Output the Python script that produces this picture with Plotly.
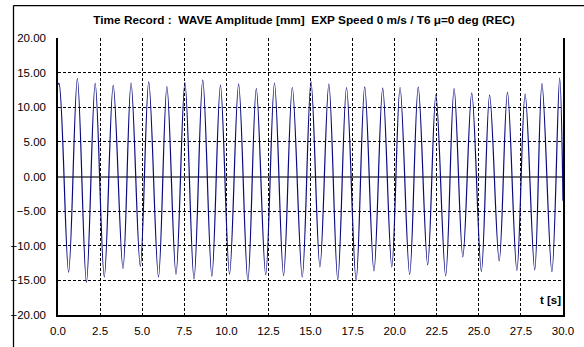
import plotly.graph_objects as go

# Wave record: alternating crests / troughs (time in s, amplitude in mm)
time_s = [0.00, 0.06, 0.63, 1.15, 1.69, 2.21, 2.75, 3.28, 3.86, 4.34, 4.89, 5.39, 5.97, 6.47, 7.01,
          7.54, 8.08, 8.60, 9.14, 9.65, 10.19, 10.73, 11.28, 11.78, 12.34, 12.86, 13.40, 13.92, 14.51,
          15.03, 15.56, 16.09, 16.62, 17.14, 17.71, 18.22, 18.77, 19.29, 19.83, 20.32, 20.89, 21.40,
          21.96, 22.45, 23.03, 23.53, 24.05, 24.58, 25.15, 25.64, 26.21, 26.70, 27.26, 27.75, 28.32,
          28.75, 29.34, 29.80, 30.00]
amp_mm = [13.3, 13.45, -13.8, 14.15, -15.3, 13.45, -14.5, 13.15, -13.3, 13.5, -13.0, 13.65, -14.5,
          13.0, -14.1, 13.55, -14.8, 13.95, -14.4, 13.2, -14.1, 13.35, -15.1, 12.7, -14.2, 13.5, -14.3,
          12.85, -14.5, 13.7, -13.05, 13.35, -14.9, 12.85, -15.0, 12.95, -13.65, 12.75, -13.05, 12.85,
          -14.15, 12.9, -12.75, 11.8, -14.35, 12.7, -11.6, 12.05, -13.7, 11.75, -12.2, 12.15, -13.55,
          11.9, -13.5, 13.4, -13.75, 14.2, -3.5]

x_ticks = [0, 2.5, 5, 7.5, 10, 12.5, 15, 17.5, 20, 22.5, 25, 27.5, 30]
y_ticks = [-20, -15, -10, -5, 0, 5, 10, 15, 20]

title_text = ("Time Record :\u00a0\u00a0WAVE Amplitude [mm]\u00a0\u00a0EXP Speed 0 m/s / T6 "
              "\u03bc=0 deg (REC)")

FONT = "Arial, Liberation Sans, sans-serif"
W, H = 584, 347
L, R, T, B = 52, 10, 38, 27
pw, ph = W - L - R, H - T - B

fig = go.Figure()
fig.add_trace(go.Scatter(x=time_s, y=amp_mm, mode="lines",
                         line=dict(color="#0a0a80", width=1.2, shape="spline", smoothing=1.0),
                         showlegend=False, hoverinfo="skip"))

grid = dict(showgrid=True, gridcolor="black", gridwidth=1, griddash="3px,2px",
            ticks="", showline=True, linecolor="black", linewidth=1.5,
            tickfont=dict(family=FONT, size=11.5, color="black"))

fig.update_xaxes(range=[0, 30], tickvals=x_ticks, tickformat=".1f", zeroline=False,
                 mirror=False, ticklabelstandoff=4, **grid)
fig.update_yaxes(range=[-20, 20], tickvals=y_ticks, tickformat=".2f", zeroline=True,
                 zerolinecolor="#707070", zerolinewidth=1.5, mirror=True,
                 ticklabelstandoff=8, **grid)

bx = (6 - L) / pw
by = (320 - 5) / ph
fig.update_layout(
    width=W, height=H,
    margin=dict(l=L, r=R, t=T, b=B),
    paper_bgcolor="white", plot_bgcolor="white",
    font=dict(family=FONT, size=11, color="black"),
    title=dict(text="<b>" + title_text + "</b>", x=304 / W, xanchor="center",
               y=1 - 20 / H, yanchor="middle", font=dict(family=FONT, size=11.8, color="black")),
    annotations=[dict(text="<b>t [s]</b>", xref="paper", yref="paper",
                      x=(574 - L) / pw, y=(320 - 305) / ph, xanchor="right", yanchor="middle",
                      showarrow=False, font=dict(family=FONT, size=11.5, color="black"))],
    shapes=[dict(type="line", xref="paper", yref="paper", x0=bx, x1=1.5, y0=by, y1=by,
                 line=dict(color="black", width=1.3), layer="below"),
            dict(type="line", xref="paper", yref="paper", x0=bx, x1=bx, y0=by, y1=-0.5,
                 line=dict(color="black", width=1.3), layer="below")],
)

fig.write_html("out.html")
